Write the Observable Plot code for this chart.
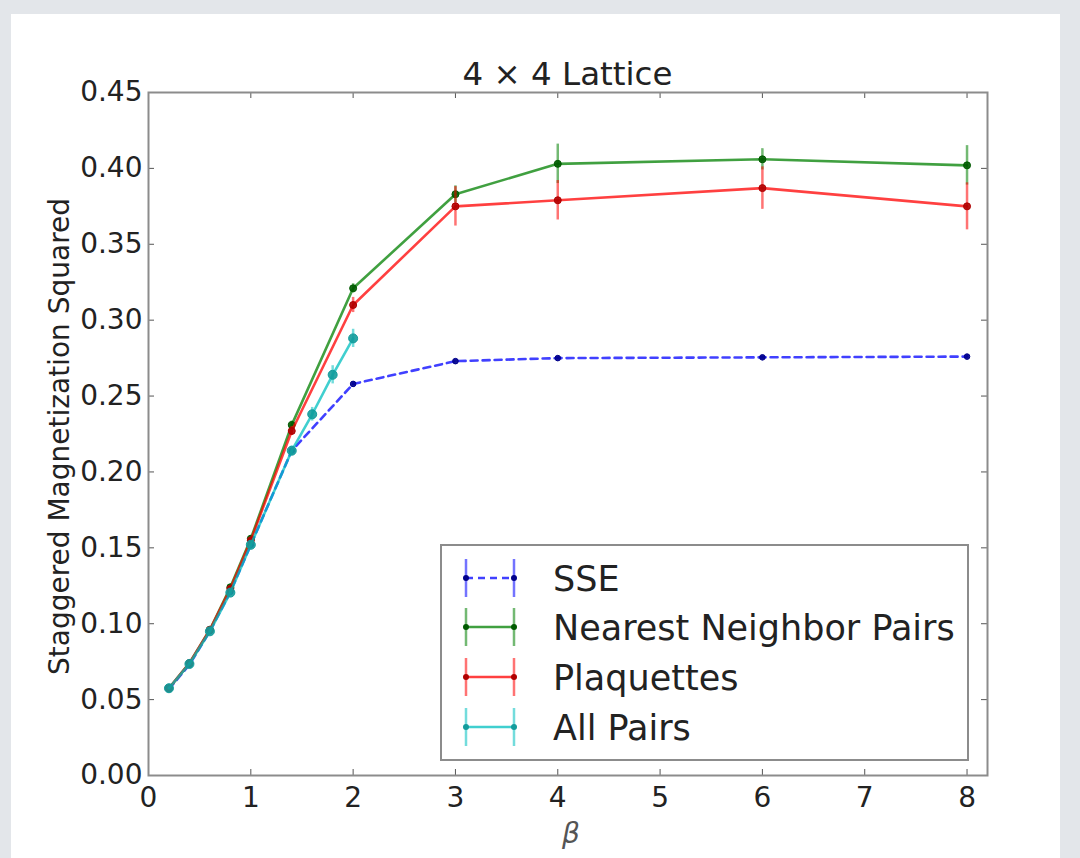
<!DOCTYPE html>
<html>
<head>
<meta charset="utf-8">
<script src="https://cdn.jsdelivr.net/npm/d3@7"></script>
<script src="https://cdn.jsdelivr.net/npm/@observablehq/plot@0.6"></script>
<style>
  html, body { margin: 0; padding: 0; background: #e3e6ea; }
  #page { position: relative; width: 1080px; height: 858px; overflow: hidden; font-family: "DejaVu Sans", sans-serif; }
  #panel { position: absolute; left: 11px; top: 14px; width: 1049px; height: 844px; background: #ffffff; }
  #page svg { position: absolute; left: 0; top: 0; }
</style>
</head>
<body>
<div id="page"><div id="panel"></div></div>
<script>
// Inverse temperature values
const beta = [0.2, 0.4, 0.6, 0.8, 1.0, 1.4, 2, 3, 4, 6, 8];
const betaAllPairs = [0.2, 0.4, 0.6, 0.8, 1.0, 1.4, 1.6, 1.8, 2.0];

// Staggered magnetization squared, per estimator, with error bars
const sse        = [0.0570, 0.0730, 0.0950, 0.1210, 0.1520, 0.2140, 0.2580, 0.2730, 0.2750, 0.2755, 0.2760];
const sseErr     = [0.0005, 0.0005, 0.0005, 0.0008, 0.0008, 0.0010, 0.0010, 0.0010, 0.0010, 0.0010, 0.0010];
const nearest    = [0.0575, 0.0740, 0.0960, 0.1240, 0.1560, 0.2310, 0.3210, 0.3830, 0.4030, 0.4060, 0.4020];
const nearestErr = [0.0008, 0.0008, 0.0010, 0.0015, 0.0020, 0.0025, 0.0030, 0.0055, 0.0130, 0.0070, 0.0130];
const plaquettes    = [0.0575, 0.0740, 0.0960, 0.1230, 0.1550, 0.2270, 0.3100, 0.3750, 0.3790, 0.3870, 0.3750];
const plaquettesErr = [0.0008, 0.0008, 0.0010, 0.0015, 0.0020, 0.0030, 0.0050, 0.0130, 0.0130, 0.0140, 0.0155];
const allPairs    = [0.0575, 0.0735, 0.0950, 0.1205, 0.1520, 0.2140, 0.2380, 0.2640, 0.2880];
const allPairsErr = [0.0008, 0.0008, 0.0010, 0.0015, 0.0020, 0.0030, 0.0045, 0.0060, 0.0060];

const seriesNames  = ["SSE", "Nearest Neighbor Pairs", "Plaquettes", "All Pairs"];
const lineColors   = ["#0000ff", "#008000", "#ff0000", "#00bfbf"];
const markerColors = ["#00008b", "#005a00", "#b00000", "#139c9c"];

const xTicks = [0, 1, 2, 3, 4, 5, 6, 7, 8];
const yTicks = [0, 0.05, 0.10, 0.15, 0.20, 0.25, 0.30, 0.35, 0.40, 0.45];

const series = [
  {xs: beta, ys: sse, es: sseErr, dash: "7,5", r: 2.8},
  {xs: beta, ys: nearest, es: nearestErr, dash: null, r: 3.5},
  {xs: beta, ys: plaquettes, es: plaquettesErr, dash: null, r: 3.5},
  {xs: betaAllPairs, ys: allPairs, es: allPairsErr, dash: null, r: 4.5}
].map((s, i) => ({
  ...s,
  name: seriesNames[i],
  color: lineColors[i],
  marker: markerColors[i],
  rows: s.xs.map((b, j) => ({beta: b, m: s.ys[j], err: s.es[j]}))
}));

const W = 1080, H = 858;
const mL = 148, mR = 93, mT = 92, mB = 83;
const innerW = W - mL - mR, innerH = H - mT - mB;
const tickLen = 6;
const axisGray = "#8c8c8c";

const seriesMarks = series.flatMap(s => [
  Plot.ruleX(s.rows, {x: "beta", y1: d => d.m - d.err, y2: d => d.m + d.err,
    stroke: s.color, strokeWidth: 2.5, strokeOpacity: 0.55}),
  Plot.line(s.rows, {x: "beta", y: "m", stroke: s.color, strokeWidth: 2.6,
    strokeOpacity: 0.75, strokeDasharray: s.dash}),
  Plot.dot(s.rows, {x: "beta", y: "m", r: s.r, fill: s.marker, stroke: s.marker,
    strokeWidth: 1, fillOpacity: 0.9})
]);

const chart = Plot.plot({
  width: W, height: H,
  marginLeft: mL, marginRight: mR, marginTop: mT, marginBottom: mB,
  x: {domain: [0, 8.2]},
  y: {domain: [0, 0.45]},
  style: {background: "transparent", fontFamily: "DejaVu Sans, sans-serif", fontSize: "28px", color: "#222", overflow: "visible"},
  marks: [
    Plot.axisX({ticks: xTicks, tickSize: 0, tickPadding: 12, tickFormat: d => String(d), fontSize: 28, label: null}),
    Plot.axisY({ticks: yTicks, tickSize: 0, tickPadding: 6, tickFormat: d3.format(".2f"), fontSize: 28, label: null}),
    // inward ticks on all four sides
    Plot.tickX(xTicks, {x: d => d, insetTop: innerH - tickLen, stroke: "#555"}),
    Plot.tickX(xTicks, {x: d => d, insetBottom: innerH - tickLen, stroke: "#555"}),
    Plot.tickY(yTicks, {y: d => d, insetRight: innerW - tickLen, stroke: "#555"}),
    Plot.tickY(yTicks, {y: d => d, insetLeft: innerW - tickLen, stroke: "#555"}),
    ...seriesMarks,
    Plot.frame({stroke: axisGray, strokeWidth: 2})
  ]
});
document.getElementById("page").appendChild(chart);

// Title, axis labels and legend
const overlay = d3.select("#page").append("svg")
  .attr("width", W).attr("height", H)
  .style("font-family", "DejaVu Sans, sans-serif");

overlay.append("text")
  .attr("x", mL + innerW / 2).attr("y", 85)
  .attr("text-anchor", "middle").attr("font-size", 32.5).attr("fill", "#222")
  .text("4 \u00d7 4 Lattice");

overlay.append("text")
  .attr("transform", `translate(69, ${mT + innerH / 2 + 3}) rotate(-90)`)
  .attr("text-anchor", "middle").attr("font-size", 28).attr("fill", "#222")
  .text("Staggered Magnetization Squared");

overlay.append("text")
  .attr("x", 571).attr("y", 843)
  .attr("text-anchor", "middle").attr("font-size", 28).attr("font-style", "italic").attr("fill", "#555")
  .text("\u03b2");

const legend = overlay.append("g");
legend.append("rect")
  .attr("x", 441).attr("y", 545).attr("width", 527).attr("height", 215)
  .attr("fill", "#fff").attr("stroke", axisGray).attr("stroke-width", 2);

const rowY = [578, 627, 677, 727];
series.forEach((s, i) => {
  const g = legend.append("g").attr("transform", `translate(0, ${rowY[i]})`);
  const x0 = 466, x1 = 514;
  g.append("line").attr("x1", x0).attr("x2", x1).attr("y1", 0).attr("y2", 0)
    .attr("stroke", s.color).attr("stroke-width", 2.6).attr("stroke-opacity", 0.75)
    .attr("stroke-dasharray", s.dash);
  [x0, x1].forEach(x => {
    g.append("line").attr("x1", x).attr("x2", x).attr("y1", -19).attr("y2", 19)
      .attr("stroke", s.color).attr("stroke-width", 2.5).attr("stroke-opacity", 0.55);
    g.append("circle").attr("cx", x).attr("cy", 0).attr("r", 3)
      .attr("fill", s.marker);
  });
  g.append("text").attr("x", 553).attr("y", 0).attr("dy", "0.36em")
    .attr("font-size", 35).attr("fill", "#222").text(s.name);
});
</script>
</body>
</html>
